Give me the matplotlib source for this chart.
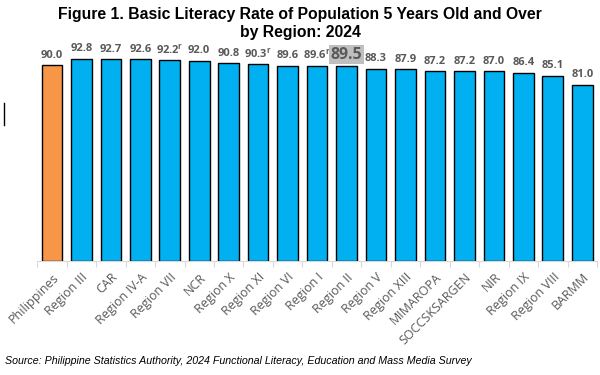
import matplotlib
matplotlib.use("Agg")
import matplotlib.pyplot as plt
from matplotlib.lines import Line2D

regions = ["Philippines", "Region III", "CAR", "Region IV-A", "Region VII", "NCR",
           "Region X", "Region XI", "Region VI", "Region I", "Region II", "Region V",
           "Region XIII", "MIMAROPA", "SOCCSKSARGEN", "NIR", "Region IX", "Region VIII", "BARMM"]
rates = [90.0, 92.8, 92.7, 92.6, 92.2, 92.0, 90.8, 90.3, 89.6, 89.6, 89.5, 88.3,
         87.9, 87.2, 87.2, 87.0, 86.4, 85.1, 81.0]
revised = [False, False, False, False, True, False, False, True, False, True, False, False,
           False, False, False, False, False, False, False]
highlight = "Region II"

fig = plt.figure(figsize=(6, 3.75), dpi=100)
ax = fig.add_axes([0.062, 0.304, 0.933, 0.581])

colors = ["#F79646" if r == "Philippines" else "#00B0F0" for r in regions]
x = list(range(len(regions)))
ax.bar(x, rates, width=0.7, color=colors, edgecolor="black", linewidth=1.0, zorder=2)

ax.set_xlim(-0.5, len(regions) - 0.5)
ax.set_ylim(0, 100)
ax.set_yticks([])
for s in ["top", "right", "left"]:
    ax.spines[s].set_visible(False)
ax.spines["bottom"].set_color("#D9D9D9")
ax.spines["bottom"].set_linewidth(0.8)

ax.set_xticks([i + 0.5 for i in range(-1, len(regions))], minor=False)
ax.set_xticklabels([])
ax.tick_params(axis="x", which="major", length=4, color="#D9D9D9", direction="out")
ax.set_xticks(x, minor=True)
ax.set_xticklabels(regions, minor=True, rotation=45, ha="right", rotation_mode="anchor",
                   fontsize=9, color="#595959", family="Open Sans")
ax.tick_params(axis="x", which="minor", length=0, pad=7)

for i, (r, v, rev) in enumerate(zip(regions, rates, revised)):
    if r == highlight:
        ax.text(i, v + 1.6, f"{v:.1f}", ha="center", va="bottom", fontsize=11.5,
                fontweight="bold", color="#595959", family="Open Sans",
                bbox=dict(boxstyle="square,pad=0.12", fc="#BFBFBF", ec="none"))
    else:
        lab = f"{v:.1f}" + ("$^{\\mathregular{r}}$" if rev else "")
        ax.text(i, v + 2.0, lab, ha="center", va="bottom", fontsize=8,
                fontweight="bold", color="#595959", family="Open Sans")

fig.text(0.5, 0.98, "Figure 1. Basic Literacy Rate of Population 5 Years Old and Over\nby Region: 2024",
         ha="center", va="top", fontsize=11.3, fontweight="bold", family="Liberation Sans",
         linespacing=1.25)
fig.text(0.008, 0.037, "Source: Philippine Statistics Authority, 2024 Functional Literacy, Education and Mass Media Survey",
         ha="left", va="center", fontsize=7.7, style="italic", family="Liberation Sans")

fig.add_artist(Line2D([0.006, 0.006], [1 - 103/375, 1 - 125/375], color="black", linewidth=1.0))

fig.savefig("out.png", dpi=100)
